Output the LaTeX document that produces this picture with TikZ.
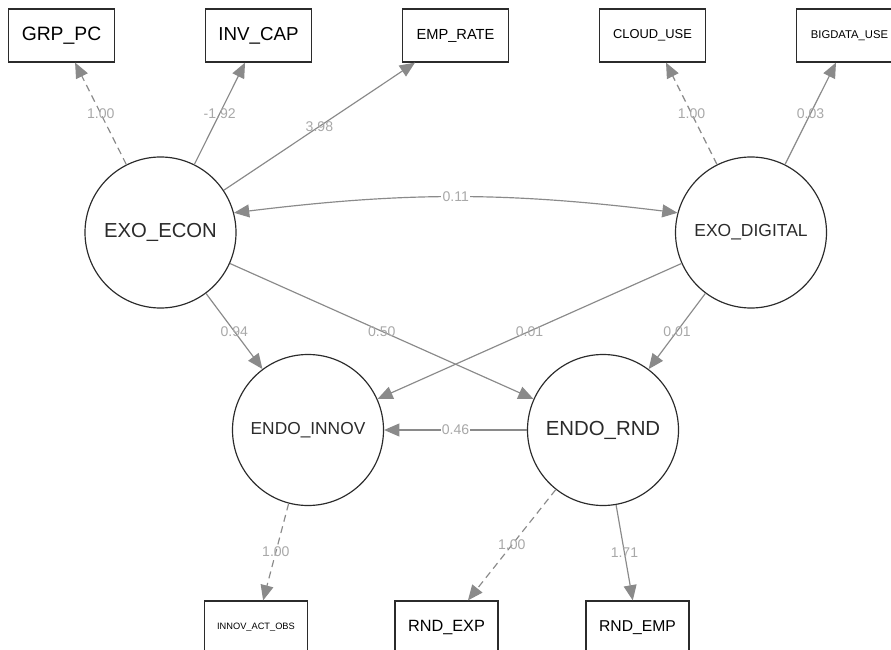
\documentclass[tikz,border=0pt]{standalone}
\usepackage{fontspec}
\setmainfont{Liberation Sans}
\usetikzlibrary{arrows.meta}
\definecolor{edgegray}{HTML}{8A8A8A}
\definecolor{labgray}{HTML}{A8A8A8}
\definecolor{nodeline}{HTML}{2B2B2B}
\newcommand{\fsz}[1]{\fontsize{#1}{#1}\selectfont}
\begin{document}
\begin{tikzpicture}[x=0.03cm,y=-0.03cm,>={Triangle[length=13pt,width=11pt]},
  latent/.style={circle,draw=nodeline,line width=1pt,minimum size=4.53cm,inner sep=0pt,text=nodeline},
  obs/.style={rectangle,draw=nodeline,line width=1pt,minimum width=3.2cm,minimum height=1.59cm,inner sep=0pt,text=black},
  obsb/.style={obs,minimum width=3.09cm},
  reg/.style={->,draw=edgegray,line width=1pt},
  fixload/.style={reg,dash pattern=on 6pt off 4pt},
  coef/.style={text=labgray,font=\fsz{12}},
  coefbg/.style={coef,fill=white,inner sep=1pt}]
  \path[use as bounding box,clip] (0,0) rectangle (891,650);
  \node[obs,font=\fsz{16.5}] (grp) at (61.5,35.5) {GRP\_PC};
  \node[obs,font=\fsz{16}] (inv) at (258.5,35.5) {INV\_CAP};
  \node[obs,font=\fsz{12.5}] (emp) at (455.5,35.5) {EMP\_RATE};
  \node[obs,font=\fsz{11}] (cloud) at (652.5,35.5) {CLOUD\_USE};
  \node[obs,font=\fsz{9.6}] (bigdata) at (849.5,35.5) {BIGDATA\_USE};
  \node[latent,font=\fsz{17.3}] (econ) at (160.5,232.5) {EXO\_ECON};
  \node[latent,font=\fsz{14.9}] (digi) at (751,232.5) {EXO\_DIGITAL};
  \node[latent,font=\fsz{14.8}] (innov) at (308,430) {ENDO\_INNOV};
  \node[latent,font=\fsz{17.4}] (rnd) at (603,430) {ENDO\_RND};
  \node[obsb,font=\fsz{7.9}] (actobs) at (256,627.5) {INNOV\_ACT\_OBS};
  \node[obsb,font=\fsz{13.9}] (rndexp) at (446.5,627.5) {RND\_EXP};
  \node[obsb,font=\fsz{13.4}] (rndemp) at (637.5,627.5) {RND\_EMP};
  \draw[fixload] (econ) -- node[coef]{1.00} (grp);
  \draw[reg] (econ) -- node[coef]{-1.92} (inv);
  \draw[reg] (econ) -- node[coef]{3.98} (emp);
  \draw[fixload] (digi) -- node[coef]{1.00} (cloud);
  \draw[reg] (digi) -- node[coef]{0.03} (bigdata);
  \draw[reg,<->] (econ.15) to[bend left=7] node[coefbg]{0.11} (digi.165);
  \draw[reg] (econ) -- node[coef]{0.94} (innov);
  \draw[reg] (econ) -- node[coef]{0.50} (rnd);
  \draw[reg] (digi) -- node[coef]{0.01} (innov);
  \draw[reg] (digi) -- node[coef]{0.01} (rnd);
  \draw[reg] (rnd) -- node[coefbg]{0.46} (innov);
  \draw[fixload] (innov) -- node[coef]{1.00} (actobs);
  \draw[fixload] (rnd) -- node[coef]{1.00} (rndexp);
  \draw[reg] (rnd) -- node[coef]{1.71} (rndemp);
\end{tikzpicture}
\end{document}
